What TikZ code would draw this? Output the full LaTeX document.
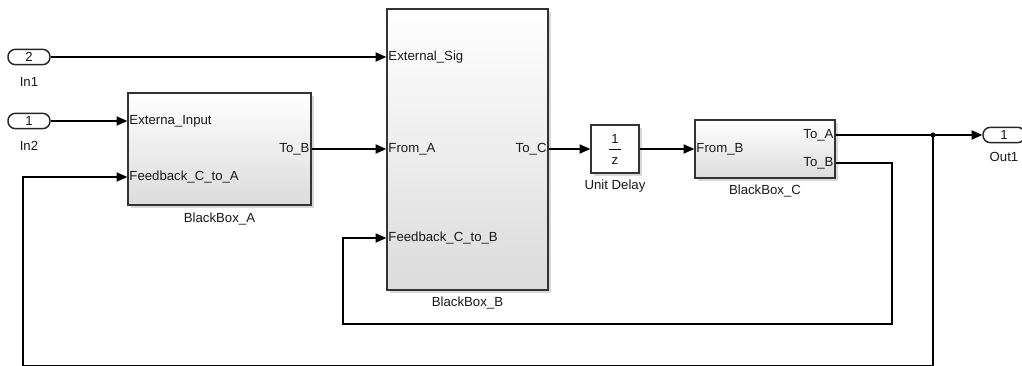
\documentclass[tikz,border=0pt]{standalone}
\usepackage{fontspec}
\setmainfont{Liberation Sans}
\usetikzlibrary{arrows.meta, positioning, shadows}

\begin{document}
\begin{tikzpicture}[
  x=0.75pt, y=-0.75pt,
  every node/.style={font=\fontsize{9.9}{11}\selectfont, text=black!90},
  box/.style={rectangle, draw=black!80, line width=1.2pt, inner sep=0pt,
              drop shadow={shadow xshift=2.4pt, shadow yshift=-2.4pt, opacity=0.3}},
  subsys/.style={box, top color=white, bottom color=black!14},
  gain/.style={box, fill=white},
  io/.style={rectangle, rounded corners=5.5pt, draw=black!85, line width=1.1pt,
             fill=white, minimum width=31.5pt, minimum height=11.5pt, inner sep=0pt},
  inlab/.style={anchor=west, inner sep=1.5pt},
  outlab/.style={anchor=east, inner sep=1.5pt},
  blkname/.style={inner sep=2pt},
  sig/.style={line width=0.8pt, -{Triangle[length=8pt, width=7pt]}},
  wire/.style={line width=0.8pt}
]
  \fill[white] (0,0) rectangle (1022,366);
  \useasboundingbox (0,0) rectangle (1022,366);

  % blocks
  \node[subsys, minimum width=137.25pt, minimum height=84pt] (A) at (219.5,149) {};
  \node[subsys, minimum width=120.75pt, minimum height=210.75pt] (B) at (467.5,149.5) {};
  \node[gain, minimum width=36pt, minimum height=36pt] (UD) at (615,149) {};
  \node[subsys, minimum width=105pt, minimum height=43.5pt] (C) at (765,149) {};

  \node[io] (In1) at (29,57) {2};
  \node[io] (In2) at (29,121) {1};
  \node[io] (Out1) at (1004,135) {1};

  % names
  \node[blkname, below=6.5pt of In1] (In1-name) {In1};
  \node[blkname, below=6.5pt of In2] (In2-name) {In2};
  \node[blkname, below=4.5pt of Out1] (Out1-name) {Out1};
  \node[blkname, below=3pt of A] (A-name) {BlackBox\_A};
  \node[blkname, below=2.5pt of B] (B-name) {BlackBox\_B};
  \node[blkname, below=2.5pt of UD] (UD-name) {Unit Delay};
  \node[blkname, below=2.5pt of C] (C-name) {BlackBox\_C};

  % ports
  \node[inlab] (A-ext) at (A.west |- 0,121) {Externa\_Input};
  \node[inlab] (A-fb) at (A.west |- 0,177) {Feedback\_C\_to\_A};
  \node[outlab] (A-tob) at (A.east |- 0,149) {To\_B};
  \node[inlab] (B-ext) at (B.west |- 0,57) {External\_Sig};
  \node[inlab] (B-froma) at (B.west |- 0,149) {From\_A};
  \node[inlab] (B-fb) at (B.west |- 0,238) {Feedback\_C\_to\_B};
  \node[outlab] (B-toc) at (B.east |- 0,149) {To\_C};
  \node[inlab] (C-fromb) at (C.west |- 0,149) {From\_B};
  \node[outlab] (C-toa) at (C.east |- 0,135) {To\_A};
  \node[outlab] (C-tob) at (C.east |- 0,163) {To\_B};

  % unit delay 1/z
  \node[inner sep=0pt] (UD-num) at (615,139) {1};
  \node[inner sep=0pt] (UD-den) at (615,161) {z};
  \draw[line width=0.7pt] (609,149) -- (621,149);

  % signals
  \coordinate (dot) at (933,135);
  \draw[sig] (In1) -- (B-ext.west);
  \draw[sig] (In2) -- (A-ext.west);
  \draw[sig] (A-tob.east) -- (B-froma.west);
  \draw[sig] (B-toc.east) -- (UD);
  \draw[sig] (UD) -- (C-fromb.west);
  \draw[wire] (C-toa.east) -- (dot);
  \draw[sig] (dot) -- (Out1);
  \fill[black] (dot) circle[radius=2.6];
  \draw[sig] (C-tob.east) -| (892,324) -- (343,324) |- (B-fb.west);
  \draw[sig] (dot) -- (933,366) -- (23,366) |- (A-fb.west);
\end{tikzpicture}
\end{document}
